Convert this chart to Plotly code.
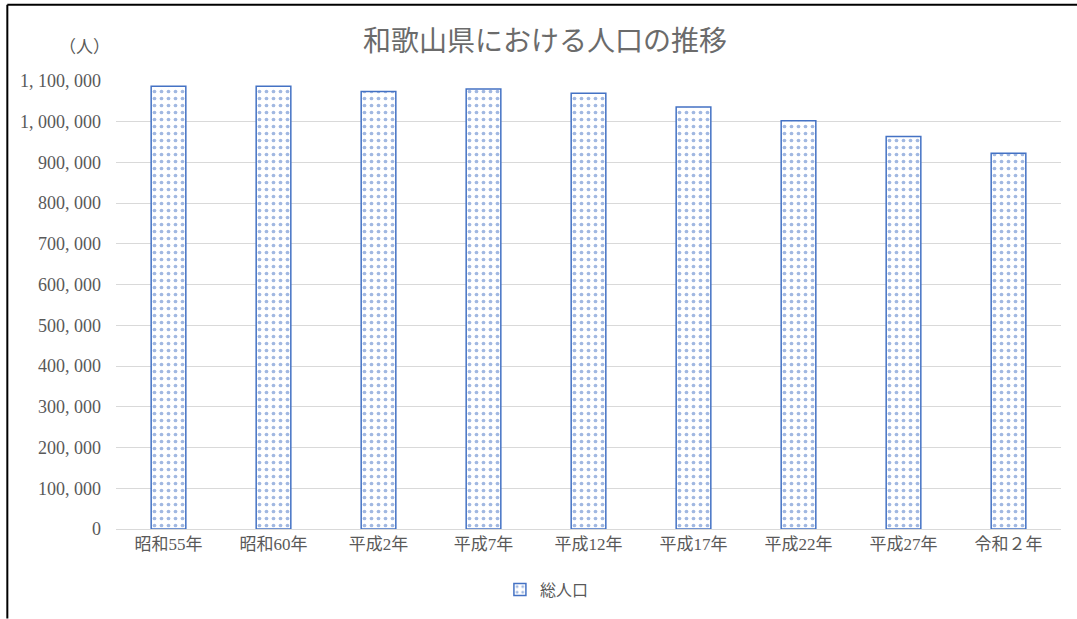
import plotly.graph_objects as go

categories = ["昭和55年", "昭和60年", "平成2年", "平成7年", "平成12年",
              "平成17年", "平成22年", "平成27年", "令和２年"]
population = [1087012, 1087206, 1074325, 1080435, 1069912,
              1035969, 1002198, 963579, 922584]
tick_vals = [0, 100000, 200000, 300000, 400000, 500000, 600000,
             700000, 800000, 900000, 1000000, 1100000]
tick_text = ["0", "100, 000", "200, 000", "300, 000", "400, 000", "500, 000",
             "600, 000", "700, 000", "800, 000", "900, 000", "1, 000, 000",
             "1, 100, 000"]

FONT = "Liberation Serif, Noto Sans CJK JP"
GREY = "#595959"
BLUE = "#4472C4"

fig = go.Figure()
fig.add_trace(go.Bar(
    x=categories, y=population, name="総人口",
    marker=dict(
        color="white",
        line=dict(color=BLUE, width=1.5),
        pattern=dict(shape=".", fgcolor=BLUE, bgcolor="white",
                     size=7, solidity=0.22, fillmode="overlay"),
    ),
))

fig.update_layout(
    width=1077, height=619,
    paper_bgcolor="white", plot_bgcolor="white",
    margin=dict(l=116, r=16, t=81, b=87),
    bargap=0.67,
    font=dict(family=FONT, color=GREY, size=17),
    title=dict(text="和歌山県における人口の推移", x=0.506, xref="container",
               y=0.934, yref="container", xanchor="center", yanchor="middle",
               font=dict(size=28, color="#6b6b6b", family=FONT, weight="normal")),
    showlegend=True,
    legend=dict(orientation="h", x=0.456, xanchor="center", y=-0.135,
                yanchor="middle", font=dict(size=16, color=GREY),
                itemwidth=30),
    xaxis=dict(showgrid=False, showline=True, linecolor="#D9D9D9", linewidth=1,
               ticks="", tickfont=dict(size=17, color=GREY)),
    yaxis=dict(range=[0, 1100000], tickvals=tick_vals, ticktext=tick_text,
               showgrid=True, gridcolor="#D9D9D9", gridwidth=1,
               zeroline=False, showline=False, ticks="",
               ticklabelstandoff=14,
               tickfont=dict(size=18, color=GREY)),
    annotations=[dict(text="（人）", xref="paper", yref="paper",
                      x=-0.033, y=1.075, xanchor="center", yanchor="middle",
                      showarrow=False, font=dict(size=17, color=GREY))],
    shapes=[
        dict(type="line", xref="paper", yref="paper", x0=-0.115, x1=1.02,
             y0=1.17, y1=1.17, line=dict(color="black", width=2)),
        dict(type="line", xref="paper", yref="paper", x0=-0.115, x1=-0.115,
             y0=1.17, y1=-0.2, line=dict(color="black", width=2)),
    ],
)

fig.write_html("out.html")
